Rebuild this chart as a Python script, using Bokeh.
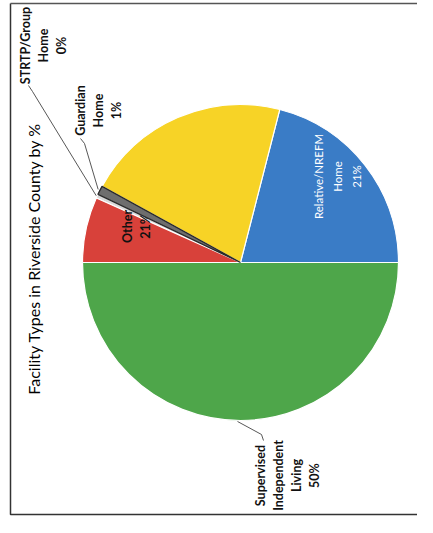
import math
from bokeh.plotting import figure
from bokeh.models import Range1d
from bokeh.core.properties import value
from bokeh.embed import file_html
from bokeh.resources import INLINE

# ---- data ----
categories = ["Relative/NREFM Home", "Unlabeled (yellow)", "Guardian Home",
              "STRTP/Group Home", "Other", "Supervised Independent Living"]
percents = [21.0, 21.0, 0.9, 0.4, 6.7, 50.0]
label_texts = ["Relative/NREFM\nHome\n21%", "", "Guardian\nHome\n1%",
               "STRTP/Group\nHome\n0%", "Other\n21%", "Supervised\nIndependent\nLiving\n50%"]
colors = ["#3a7cc6", "#f7d326", "#6e6e6e", "#d9d9d9", "#d8413a", "#4ea64a"]
title_text = "Facility Types in Riverside County by %"

W, H = 417, 517
p = figure(width=W, height=H, output_backend="svg", toolbar_location=None,
           x_range=Range1d(0, 417), y_range=Range1d(16, 533), min_border=0)
p.axis.visible = False
p.grid.visible = False
p.outline_line_color = None
p.background_fill_color = "white"
p.border_fill_color = "white"


def Y(img_y):
    return 533 - img_y


cx, cy, r = 240, Y(262), 158

# slice angles (counter-clockwise from east)
starts, ends = [], []
acc = 0.0
for v in percents:
    starts.append(acc / 100 * 2 * math.pi)
    acc += v
    ends.append(acc / 100 * 2 * math.pi)

# border frame
p.line(x=[10, 10, 440], y=[Y(3), Y(514), Y(514)], line_color="#333333", line_width=1.5)
p.line(x=[10, 440], y=[Y(3), Y(3)], line_color="#555555", line_width=1.5)

# wedges except guardian
for i in range(len(percents)):
    if categories[i] == "Guardian Home":
        continue
    p.wedge(x=cx, y=cy, radius=r, start_angle=starts[i], end_angle=ends[i],
            fill_color=colors[i], line_color="white", line_width=1.2)

# labels
rot = math.pi / 2
bold = dict(text_font=value("Lato"), text_font_style="bold", text_font_size="12.5px",
            text_color="#111111", text_align="center", text_baseline="middle",
            angle=rot, text_line_height=1.2)

# Other label (drawn before guardian slice, which partly covers it)
p.text(x=[136], y=[Y(226)], text=[label_texts[4]], **bold)

# guardian wedge with dark outline
gi = categories.index("Guardian Home")
p.wedge(x=cx, y=cy, radius=r, start_angle=starts[gi], end_angle=ends[gi],
        fill_color=colors[gi], line_color="#2a2a2a", line_width=1.3)

# title
p.text(x=[33], y=[Y(258)], text=[title_text], text_font=value("Lato"),
       text_font_size="16px", text_color="#000000", text_align="center",
       text_baseline="middle", angle=rot)

# Relative label (white)
p.text(x=[337], y=[Y(176)], text=[label_texts[0]], text_font=value("Lato"),
       text_font_size="11.5px", text_color="white", text_align="center",
       text_baseline="middle", angle=rot, text_line_height=1.45)

# outside labels
p.text(x=[43], y=[Y(45)], text=[label_texts[3]], **bold)
p.text(x=[98], y=[Y(110)], text=[label_texts[2]], **bold)
p.text(x=[287], y=[Y(475)], text=[label_texts[5]], **bold)


def edge_point(idx, rr=r):
    a = (starts[idx] + ends[idx]) / 2
    return cx + rr * math.cos(a), cy + rr * math.sin(a)


# leader lines
si = categories.index("STRTP/Group Home")
ex, ey = edge_point(si, r + 1)
p.line(x=[28, 32, ex], y=[Y(85), Y(91), ey], line_color="#444444", line_width=0.9)
ex, ey = edge_point(gi, r + 2)
p.line(x=[80, 84, ex], y=[Y(138), Y(143), ey], line_color="#444444", line_width=0.9)
li = categories.index("Supervised Independent Living")
a = starts[li] + (ends[li] - starts[li]) * 0.494
ex, ey = cx + (r + 1) * math.cos(a), cy + (r + 1) * math.sin(a)
p.line(x=[263, 261, ex], y=[Y(440), Y(434), ey], line_color="#444444", line_width=0.9)

open("out.html", "w").write(file_html(p, INLINE))
